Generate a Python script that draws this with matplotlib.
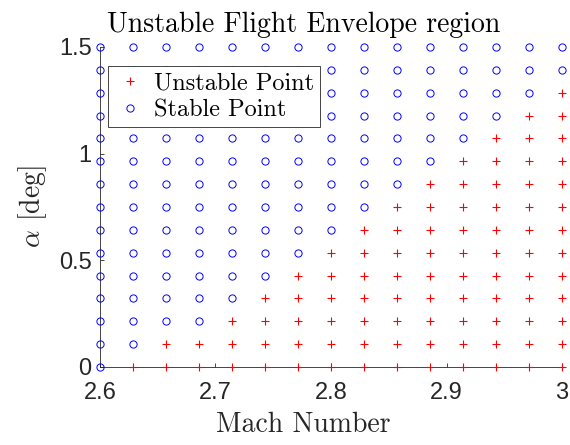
import matplotlib
matplotlib.use("Agg")
import matplotlib.pyplot as plt
import numpy as np

plt.rcParams['mathtext.fontset'] = 'cm'

mach = [2.6, 2.6286, 2.6571, 2.6857, 2.7143, 2.7429, 2.7714, 2.8,
        2.8286, 2.8571, 2.8857, 2.9143, 2.9429, 2.9714, 3.0]
alpha = [0.0, 0.1071, 0.2143, 0.3214, 0.4286, 0.5357, 0.6429, 0.75,
         0.8571, 0.9643, 1.0714, 1.1786, 1.2857, 1.3929, 1.5]
# stability[row for alpha][col for mach]: 1 = unstable, 0 = stable
stability = [
    [0,1,1,1,1,1,1,1,1,1,1,1,1,1,1],
    [0,0,1,1,1,1,1,1,1,1,1,1,1,1,1],
    [0,0,0,0,1,1,1,1,1,1,1,1,1,1,1],
    [0,0,0,0,0,1,1,1,1,1,1,1,1,1,1],
    [0,0,0,0,0,0,1,1,1,1,1,1,1,1,1],
    [0,0,0,0,0,0,0,1,1,1,1,1,1,1,1],
    [0,0,0,0,0,0,0,0,1,1,1,1,1,1,1],
    [0,0,0,0,0,0,0,0,0,1,1,1,1,1,1],
    [0,0,0,0,0,0,0,0,0,0,1,1,1,1,1],
    [0,0,0,0,0,0,0,0,0,0,0,1,1,1,1],
    [0,0,0,0,0,0,0,0,0,0,0,0,1,1,1],
    [0,0,0,0,0,0,0,0,0,0,0,0,0,1,1],
    [0,0,0,0,0,0,0,0,0,0,0,0,0,0,1],
    [0,0,0,0,0,0,0,0,0,0,0,0,0,0,0],
    [0,0,0,0,0,0,0,0,0,0,0,0,0,0,0],
]
xticks = [2.6, 2.7, 2.8, 2.9, 3.0]
xticklabels = ['2.6', '2.7', '2.8', '2.9', '3']
yticks = [0, 0.5, 1, 1.5]
yticklabels = ['0', '0.5', '1', '1.5']

M, A = np.meshgrid(mach, alpha)
S = np.array(stability)

fig = plt.figure(figsize=(5.7, 4.45), dpi=100)
ax = fig.add_axes([0.1754, 0.1753, 0.986 - 0.1754, 0.8944 - 0.1753])

ax.plot(M[S == 1], A[S == 1], '+', color='red', markersize=6, markeredgewidth=0.8,
        linestyle='none', clip_on=False, label='Unstable Point', zorder=3)
ax.plot(M[S == 0], A[S == 0], 'o', color='blue', markerfacecolor='none', markersize=5.2,
        markeredgewidth=0.7, linestyle='none', clip_on=False, label='Stable Point', zorder=3)

ax.set_xlim(2.6, 3.0)
ax.set_ylim(0, 1.5)
ax.set_xticks(xticks)
ax.set_xticklabels(xticklabels)
ax.set_yticks(yticks)
ax.set_yticklabels(yticklabels)
for lab in ax.get_xticklabels() + ax.get_yticklabels():
    lab.set_fontfamily('Liberation Sans')
    lab.set_fontsize(17)
    lab.set_color('#262626')
ax.tick_params(direction='in', length=3, width=0.6, color='#262626')
ax.tick_params(axis='x', pad=11)
ax.tick_params(axis='y', pad=6)

ax.spines['top'].set_visible(False)
ax.spines['right'].set_visible(False)
for sp in ('left', 'bottom'):
    ax.spines[sp].set_color('#262626')
    ax.spines[sp].set_linewidth(0.6)

ax.set_title('Unstable Flight Envelope region', fontfamily='cmr10', fontsize=20, pad=11, x=0.44)
ax.set_xlabel('Mach Number', fontfamily='cmr10', fontsize=20, color='#262626')
ax.xaxis.set_label_coords(0.44, -0.14)
ax.set_ylabel(r'$\alpha$ [deg]', fontfamily='cmr10', fontsize=20, labelpad=7, color='#262626')

leg = ax.legend(loc='upper left', bbox_to_anchor=(0.017, 0.94), prop={'family': 'cmr10', 'size': 17.5},
                frameon=True, fancybox=False, edgecolor='#262626', framealpha=1,
                handlelength=1.3, handletextpad=0.35, borderpad=0.25, labelspacing=0.2,
                borderaxespad=0)
leg.get_frame().set_linewidth(0.6)

fig.savefig('out.png', dpi=100)
